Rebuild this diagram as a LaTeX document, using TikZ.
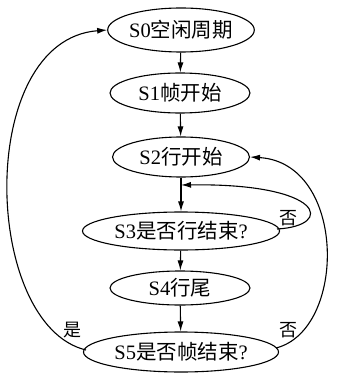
\documentclass[tikz,border=0pt]{standalone}
\usepackage{fontspec}
\setmainfont{Liberation Serif}
\newfontfamily\cjk{Noto Sans CJK SC}
\usetikzlibrary{shapes.geometric,arrows.meta}
\newcommand{\zh}[1]{{\cjk #1}}
\begin{document}
\begin{tikzpicture}[x=1pt,y=-1pt,
  state/.style={ellipse,draw,line width=1.1pt,inner sep=0pt,minimum height=40pt,
    font=\fontsize{20.5}{23}\selectfont},
  edge/.style={line width=1.1pt,-{Latex[length=10pt,width=6pt]}},
  lab/.style={font=\fontsize{18}{20}\selectfont\cjk,inner sep=0pt}]
\useasboundingbox (0,0) rectangle (344,377);
\node[state,minimum width=138pt,minimum height=44pt] (s0) at (181,30) {S0\zh{空闲周期}};
\node[state,minimum width=140pt] (s1) at (180,93) {S1\zh{帧开始}};
\node[state,minimum width=137pt] (s2) at (181,157) {S2\zh{行开始}};
\node[state,minimum width=197pt,minimum height=38pt] (s3) at (181,231) {S3\zh{是否行结束}?};
\node[state,minimum width=140pt,minimum height=34pt] (s4) at (180,288) {S4\zh{行尾}};
\node[state,minimum width=195pt] (s5) at (181,352) {S5\zh{是否帧结束}?};
\coordinate (j) at (181,185);
\coordinate (s3r) at (277,229);
\coordinate (s5r) at (276,348);
\coordinate (s5l) at (86,350);
\draw[edge] (s0) -- (s1);
\draw[edge] (s1) -- (s2);
\draw[edge] (s2) -- (s3);
\draw[edge] (s3) -- (s4);
\draw[edge] (s4) -- (s5);
\draw[edge] (s3r) .. controls (335,226) and (325,183) .. (j);
\draw[edge] (s5r) .. controls (347,330) and (347,163) .. (s2.east);
\draw[edge] (s5l) .. controls (-18,325) and (-25,40) .. (s0.west);
\node[lab] (n1) at (288,218) {否};
\node[lab] (n2) at (288,330) {否};
\node[lab] (y1) at (72,330) {是};
\end{tikzpicture}
\end{document}
